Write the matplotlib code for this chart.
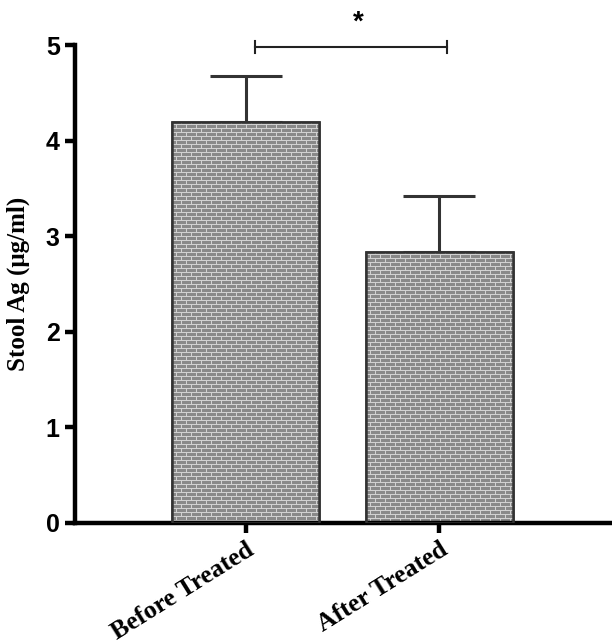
import numpy as np
import matplotlib
matplotlib.use("Agg")
import matplotlib.pyplot as plt

categories = ["Before Treated", "After Treated"]
means = [4.2, 2.84]
errors = [0.48, 0.58]
sig_label = "*"
sig_y = 4.98
yticks = [0, 1, 2, 3, 4, 5]

fig = plt.figure(figsize=(6.12, 6.44), dpi=100)
ax = fig.add_axes([0.1225, 0.188, 0.8775, 0.742])
x = np.arange(len(categories))
bars = ax.bar(x, means, width=0.76, color="#8c8c8c", edgecolor="#333333",
              linewidth=1.8, zorder=2)
ax.errorbar(x, means, yerr=[np.zeros(len(errors)), errors], fmt="none",
            ecolor="#333333", elinewidth=2.2, capsize=26, capthick=2.2, zorder=1)
ax.set_xlim(-0.88, 1.89)
ax.set_ylim(0, 5)
ax.set_yticks(yticks)
ax.set_yticklabels([str(t) for t in yticks], fontfamily="Liberation Sans",
                   fontweight="bold", fontsize=18)
ax.set_xticks(x)
ax.set_xticklabels(categories, rotation=32, ha="right", rotation_mode="anchor",
                   fontfamily="Liberation Serif", fontweight="bold", fontsize=18.5)
ax.set_ylabel("Stool Ag (μg/ml)", fontfamily="Liberation Serif",
              fontweight="bold", fontsize=18, labelpad=11)
for s in ["top", "right"]:
    ax.spines[s].set_visible(False)
for s in ["left", "bottom"]:
    ax.spines[s].set_linewidth(3.2)
ax.tick_params(axis="both", width=3.2, length=7, pad=4)

# brick texture clipped to each bar
fig.canvas.draw()
for b in bars:
    bb = b.get_window_extent()
    w, h = int(np.ceil(bb.width)), int(np.ceil(bb.height))
    img = np.full((h, w, 3), 0.54)
    rows = np.arange(h)
    cols = np.arange(w)
    mortar = np.array([0.82, 0.82, 0.82])
    img[(rows % 4) == 3, :, :] = mortar
    for r in range(h):
        off = 0 if (r // 4) % 2 == 0 else 5
        img[r, ((cols + off) % 10) == 9, :] = mortar
    im = ax.imshow(img, extent=[b.get_x(), b.get_x() + b.get_width(), 0, b.get_height()],
                   aspect="auto", interpolation="nearest", zorder=2.5)
    im.set_clip_path(b)
    ax.bar(b.get_x() + b.get_width() / 2, b.get_height(), width=b.get_width(),
           fill=False, edgecolor="#333333", linewidth=1.8, zorder=3)
ax.set_xlim(-0.88, 1.89)
ax.set_ylim(0, 5)

# significance bracket
ax.plot([x[0] + 0.05, x[1] + 0.04], [sig_y, sig_y], color="#222222", lw=1.5,
        clip_on=False)
for xx in [x[0] + 0.05, x[1] + 0.04]:
    ax.plot([xx, xx], [sig_y - 0.065, sig_y + 0.065], color="#222222", lw=1.5,
            clip_on=False)
ax.text((x[0] + x[1]) / 2 + 0.08, sig_y + 0.12, sig_label, ha="center",
        va="bottom", fontsize=20, fontweight="bold", fontfamily="Liberation Sans")

fig.savefig("out.png", dpi=100)
